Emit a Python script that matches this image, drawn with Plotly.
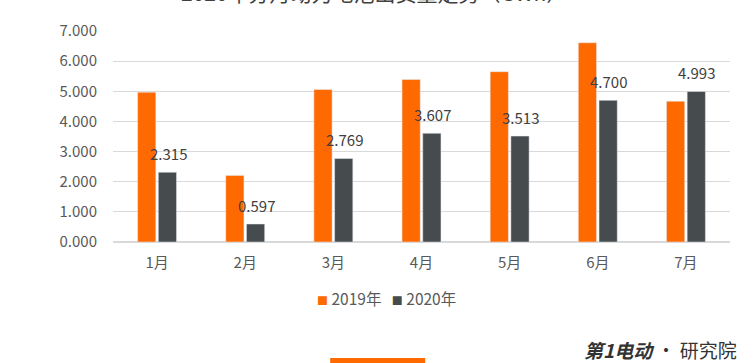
import plotly.graph_objects as go

months = ["1月", "2月", "3月", "4月", "5月", "6月", "7月"]
v2019 = [4.97, 2.21, 5.06, 5.39, 5.65, 6.61, 4.67]
v2020 = [2.315, 0.597, 2.769, 3.607, 3.513, 4.700, 4.993]
yticks = [0, 1, 2, 3, 4, 5, 6, 7]
series_names = ["2019年", "2020年"]

FONT = "Noto Sans CJK SC, Microsoft YaHei, sans-serif"
ORANGE = "#ff6a00"
GRAY = "#464b4e"

fig = go.Figure()
fig.add_trace(go.Bar(name=series_names[0], x=months, y=v2019, marker_color=ORANGE))
fig.add_trace(go.Bar(name=series_names[1], x=months, y=v2020, marker_color=GRAY))

for m, v in zip(months, v2020):
    fig.add_annotation(x=m, y=v, text=f"{v:.3f}", showarrow=False,
                       xshift=11, yshift=19, yanchor="middle",
                       font=dict(family=FONT, size=15, color="#404040"))

# title (cut off at top edge, as in the reference)
fig.add_annotation(text="2020年分月动力电池出货量走势（GWh）", xref="paper", yref="paper",
                   x=0.423, y=1.185, yanchor="middle", showarrow=False,
                   font=dict(family=FONT, size=21, color="#404040"))

# custom legend
sq = "<span style='font-size:11px;color:{c}'>■</span>"
legend_text = (sq.format(c=ORANGE) + " " + series_names[0] + "&nbsp;&nbsp;&nbsp;"
               + sq.format(c=GRAY) + " " + series_names[1])
fig.add_annotation(text=legend_text, xref="paper", yref="paper",
                   x=0.4425, y=-0.265, xanchor="center", yanchor="middle", showarrow=False,
                   font=dict(family=FONT, size=15.5, color="#595959"))

# logo text
fig.add_annotation(text="<b><i>第1电动</i></b> · 研究院", xref="paper", yref="paper",
                   x=1.015, y=-0.51, xanchor="right", yanchor="middle", showarrow=False,
                   font=dict(family=FONT, size=19, color="#333333"))

fig.add_shape(type="rect", xref="paper", yref="paper", x0=0.352, x1=0.506,
              y0=-0.55, y1=-0.58, fillcolor=ORANGE, line_width=0)

fig.update_layout(
    width=755, height=363,
    margin=dict(l=113, r=25, t=31, b=121, autoexpand=False),
    paper_bgcolor="white", plot_bgcolor="white",
    barmode="group", bargap=0.53, bargroupgap=0.12,
    font=dict(family=FONT, size=15, color="#595959"),
    showlegend=False,
    xaxis=dict(showgrid=False, showline=False, ticks="", automargin=False,
               ticklabelstandoff=10,
               tickfont=dict(family=FONT, size=15, color="#595959")),
    yaxis=dict(range=[0, 7], tickvals=yticks, tickformat=".3f", automargin=False,
               ticklabelstandoff=15,
               showgrid=True, gridcolor="#d9d9d9", gridwidth=1,
               zeroline=True, zerolinecolor="#d9d9d9", showline=False, ticks="",
               ticklen=0, tickfont=dict(family=FONT, size=15, color="#595959")),
)

fig.write_html("out.html", config={"displayModeBar": False},
               post_script="document.body.style.margin='0';")
